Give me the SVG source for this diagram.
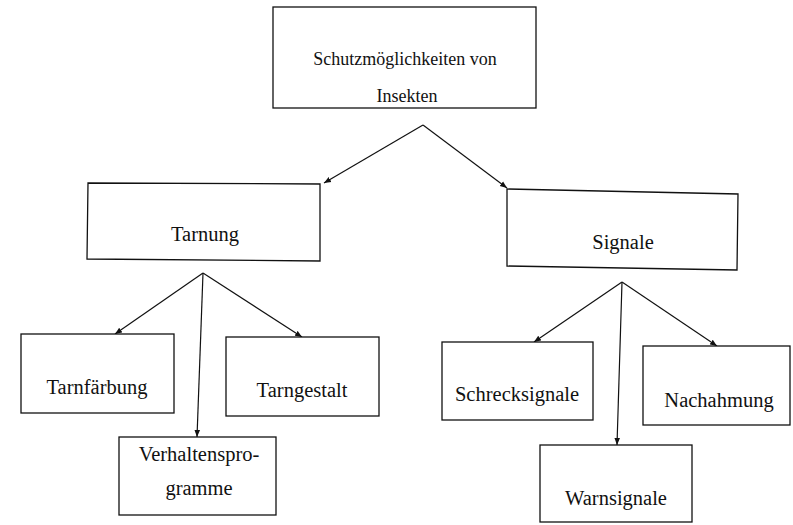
<svg xmlns="http://www.w3.org/2000/svg" width="793" height="525" viewBox="0 0 793 525">
<defs>
<style>
.box{fill:#fff;stroke:#111;stroke-width:1.3}
.t{font-family:"Liberation Serif",serif;font-size:20.5px;fill:#111;text-anchor:middle}
.tt{font-size:18px}
.c{stroke:#111;stroke-width:1.2;fill:none;marker-end:url(#ah)}
</style>
<marker id="ah" viewBox="0 0 10 10" refX="10" refY="5" markerWidth="7" markerHeight="7" orient="auto" markerUnits="userSpaceOnUse">
<path d="M0,1 L10,5 L0,9 Z" fill="#111"/>
</marker>
</defs>
<rect width="793" height="525" fill="#fff"/>
<g id="connectors">
<line class="c" x1="423" y1="125" x2="324" y2="183"/>
<line class="c" x1="423" y1="125" x2="507" y2="188"/>
<line class="c" x1="203" y1="273" x2="115" y2="334"/>
<line class="c" x1="203" y1="273" x2="302" y2="337"/>
<line class="c" x1="203" y1="273" x2="197" y2="437"/>
<line class="c" x1="622" y1="282" x2="534" y2="342"/>
<line class="c" x1="622" y1="282" x2="717" y2="346"/>
<line class="c" x1="622" y1="282" x2="617" y2="445"/>
</g>
<g id="root">
<rect class="box" x="273" y="7" width="263" height="101"/>
<text class="t tt" x="405" y="65">Schutzmöglichkeiten von</text>
<text class="t tt" x="407" y="102">Insekten</text>
</g>
<g id="tarnung">
<path class="box" d="M88,183 L320,184 L320,261 L87,259 Z"/>
<text class="t" x="205" y="241">Tarnung</text>
</g>
<g id="signale">
<path class="box" d="M507,189 L738,194 L737,270 L507,266 Z"/>
<text class="t" x="623" y="249">Signale</text>
</g>
<g id="tarnfaerbung">
<rect class="box" x="21" y="334" width="153" height="79"/>
<text class="t" x="97" y="394">Tarnfärbung</text>
</g>
<g id="tarngestalt">
<rect class="box" x="226" y="337" width="153" height="79"/>
<text class="t" x="302" y="397">Tarngestalt</text>
</g>
<g id="verhaltensprogramme">
<rect class="box" x="119" y="437" width="157" height="78"/>
<text class="t" x="199" y="461">Verhaltenspro-</text>
<text class="t" x="199" y="495">gramme</text>
</g>
<g id="schrecksignale">
<rect class="box" x="442" y="342" width="151" height="78"/>
<text class="t" x="517" y="401">Schrecksignale</text>
</g>
<g id="nachahmung">
<rect class="box" x="643" y="346" width="147" height="79"/>
<text class="t" x="719" y="407">Nachahmung</text>
</g>
<g id="warnsignale">
<rect class="box" x="540" y="445" width="152" height="77"/>
<text class="t" x="616" y="505">Warnsignale</text>
</g>
</svg>
